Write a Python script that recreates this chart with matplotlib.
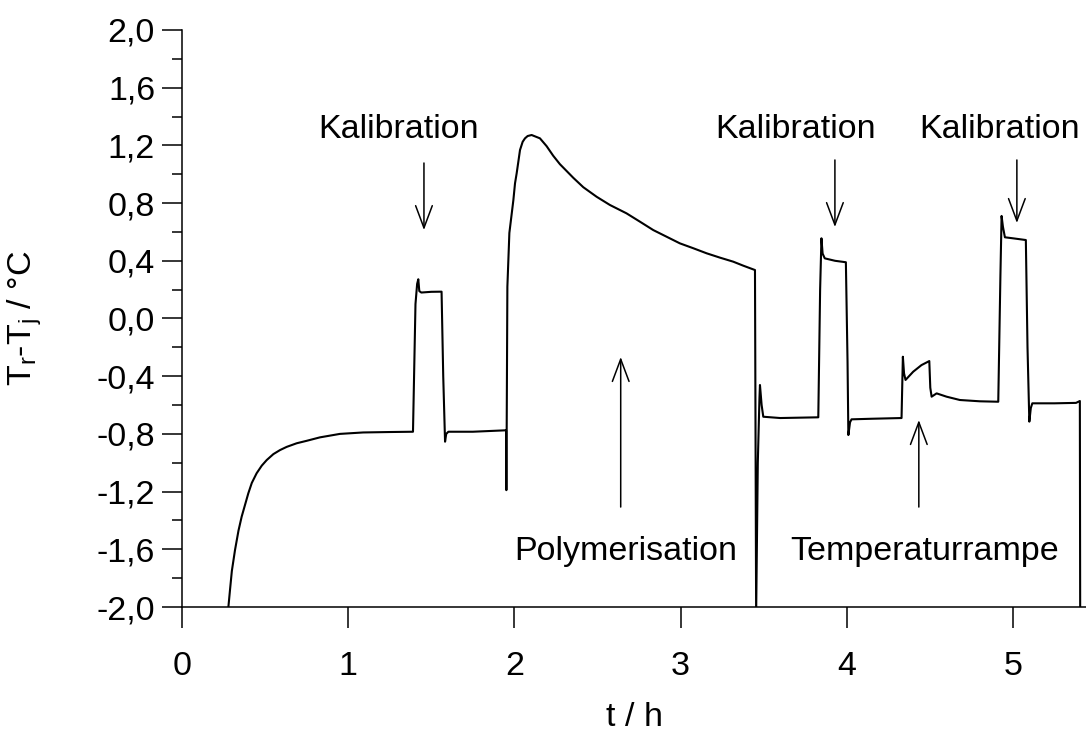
import numpy as np
import matplotlib.pyplot as plt
from matplotlib.ticker import MultipleLocator, FuncFormatter

plt.rcParams["font.family"] = ["Liberation Sans", "DejaVu Sans"]
plt.rcParams["mathtext.default"] = "regular"

# ── Data ──────────────────────────────────────────────────────────────────────
t_h = [0.275, 0.289, 0.300, 0.319, 0.340, 0.359, 0.399, 0.420, 0.449, 0.480,
       0.510, 0.550, 0.590, 0.630, 0.690, 0.750, 0.830, 0.950, 1.090, 1.250,
       1.390,
       1.405, 1.415, 1.422, 1.428, 1.440, 1.500, 1.562, 1.572, 1.583, 1.590,
       1.603, 1.750, 1.950,
       1.952, 1.955, 1.958, 1.970, 1.994, 2.004, 2.014, 2.024, 2.034, 2.050,
       2.064, 2.080, 2.104, 2.154, 2.194, 2.234, 2.274, 2.355, 2.415, 2.495,
       2.575, 2.675, 2.756, 2.836, 2.916, 2.996, 3.077, 3.157, 3.237, 3.317,
       3.378, 3.448,
       3.455, 3.465, 3.475, 3.478, 3.488, 3.498, 3.600, 3.829,
       3.840, 3.848, 3.855, 3.868, 3.930, 3.995, 4.005, 4.010, 4.020, 4.029,
       4.150, 4.330,
       4.338, 4.345, 4.354, 4.400, 4.450, 4.497, 4.503, 4.511, 4.541, 4.601,
       4.681, 4.801, 4.912,
       4.925, 4.932, 4.940, 4.952, 5.000, 5.078, 5.088, 5.099, 5.108, 5.117,
       5.250, 5.380, 5.403, 5.405]
dT = [-2.05, -1.88, -1.75, -1.605, -1.47, -1.374, -1.212, -1.14, -1.073, -1.02,
      -0.981, -0.94, -0.912, -0.89, -0.865, -0.848, -0.824, -0.800, -0.790, -0.787,
      -0.785,
      0.10, 0.24, 0.272, 0.19, 0.18, 0.185, 0.186, -0.40, -0.854, -0.80,
      -0.785, -0.785, -0.775,
      -1.19, -0.50, 0.22, 0.593, 0.82, 0.937, 1.007, 1.087, 1.168, 1.225,
      1.249, 1.265, 1.272, 1.249, 1.195, 1.128, 1.070, 0.975, 0.910, 0.844,
      0.787, 0.729, 0.671, 0.613, 0.567, 0.521, 0.487, 0.452, 0.422, 0.394,
      0.366, 0.336,
      -2.05, -1.0, -0.55, -0.461, -0.60, -0.681, -0.69, -0.685,
      0.20, 0.556, 0.45, 0.417, 0.40, 0.39, -0.30, -0.808, -0.72, -0.699,
      -0.695, -0.690,
      -0.265, -0.38, -0.426, -0.369, -0.323, -0.295, -0.48, -0.542, -0.519, -0.542,
      -0.565, -0.574, -0.577,
      0.30, 0.711, 0.637, 0.563, 0.556, 0.544, -0.20, -0.715, -0.62, -0.588,
      -0.588, -0.585, -0.572, -2.05]

labels = ["Kalibration", "Kalibration", "Kalibration", "Polymerisation", "Temperaturrampe"]
label_x = [1.306, 3.694, 4.922, 2.668, 4.471]
label_y = [1.251, 1.251, 1.251, -1.674, -1.674]
arrow_x = [1.456, 3.929, 5.024, 2.640, 4.434]
arrow_from = [1.078, 1.099, 1.099, -1.307, -1.307]
arrow_to = [0.613, 0.634, 0.662, -0.267, -0.704]

# ── Plot ──────────────────────────────────────────────────────────────────────
fig = plt.figure(figsize=(10.86, 7.45), dpi=100)
ax = fig.add_axes([182 / 1086, 1 - 607 / 745, (1086 - 182) / 1086, (607 - 30) / 745])

ax.plot(t_h, dT, color="black", lw=1.5, clip_on=True)

for txt, x, y in zip(labels, label_x, label_y):
    ax.text(x, y, txt, fontsize=24.5, ha="center", va="baseline")
for x, y0, y1 in zip(arrow_x, arrow_from, arrow_to):
    ax.annotate("", xy=(x, y1), xytext=(x, y0),
                arrowprops=dict(arrowstyle="->,head_length=0.8,head_width=0.3",
                                mutation_scale=20, lw=1.1, color="black",
                                shrinkA=0, shrinkB=0))

ax.set_xlim(0, 5.44)
ax.set_ylim(-2.0, 2.0)
ax.xaxis.set_major_locator(MultipleLocator(1))
ax.yaxis.set_major_locator(MultipleLocator(0.4))
ax.yaxis.set_minor_locator(MultipleLocator(0.2))
ax.yaxis.set_major_formatter(FuncFormatter(lambda v, p: f"{v:.1f}".replace(".", ",").replace("-0,0", "0,0")))
ax.xaxis.set_major_formatter(FuncFormatter(lambda v, p: f"{v:.0f}"))

for s in ["top", "right"]:
    ax.spines[s].set_visible(False)
for s in ["left", "bottom"]:
    ax.spines[s].set_linewidth(1.1)

ax.tick_params(axis="y", which="major", direction="out", length=14.4, width=1.1,
               pad=5, labelsize=24.5)
ax.tick_params(axis="y", which="minor", direction="out", length=7.2, width=1.1)
ax.tick_params(axis="x", which="major", direction="out", length=15, width=1.1,
               pad=17, labelsize=24.5)

fig.text(25 / 1086, 1 - 318 / 745, "T$_r$-T$_j$ / °C", fontsize=24.5,
         rotation=90, ha="center", va="center")
fig.text(634 / 1086, 1 - 717 / 745, "t / h", fontsize=24.5, ha="center", va="center")

fig.savefig("out.png", dpi=100)
